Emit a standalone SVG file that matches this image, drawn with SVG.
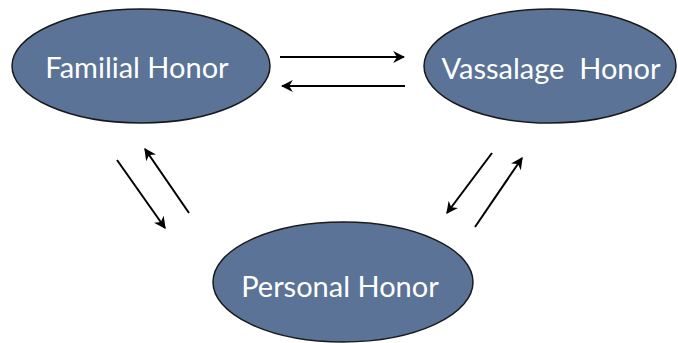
<svg xmlns="http://www.w3.org/2000/svg" width="678" height="343" viewBox="0 0 678 343">
<style>
.node ellipse{fill:#5a7396;stroke:#1a1a1a;stroke-width:1.5}
.node text{fill:#ffffff;font-family:Lato,"Open Sans","Liberation Sans",sans-serif;font-size:29px;text-anchor:middle;white-space:pre}
.edge{stroke:#000;stroke-width:2;fill:none;marker-end:url(#ah)}
</style>
<defs>
<marker id="ah" viewBox="0 0 10 10" refX="9" refY="5" markerWidth="6" markerHeight="6" orient="auto" markerUnits="strokeWidth">
<path d="M0,0 L10,5 L0,10 L3,5 Z" fill="#000"/>
</marker>
</defs>
<rect width="678" height="343" fill="#fff"/>
<g id="familial" class="node">
<ellipse cx="141" cy="66" rx="129" ry="57"/>
<text x="137" y="78">Familial Honor</text>
</g>
<g id="vassalage" class="node">
<ellipse cx="550" cy="66" rx="126" ry="57"/>
<text x="551" y="79" xml:space="preserve">Vassalage  Honor</text>
</g>
<g id="personal" class="node">
<ellipse cx="343" cy="282" rx="130" ry="60"/>
<text x="340" y="297">Personal Honor</text>
</g>
<g id="connectors">
<line class="edge" x1="280" y1="57" x2="404" y2="57"/>
<line class="edge" x1="405" y1="86" x2="282" y2="86"/>
<line class="edge" x1="117" y1="160" x2="165" y2="228"/>
<line class="edge" x1="189" y1="213" x2="145" y2="149"/>
<line class="edge" x1="492" y1="153" x2="447" y2="213"/>
<line class="edge" x1="475" y1="227" x2="522" y2="158"/>
</g>
</svg>
